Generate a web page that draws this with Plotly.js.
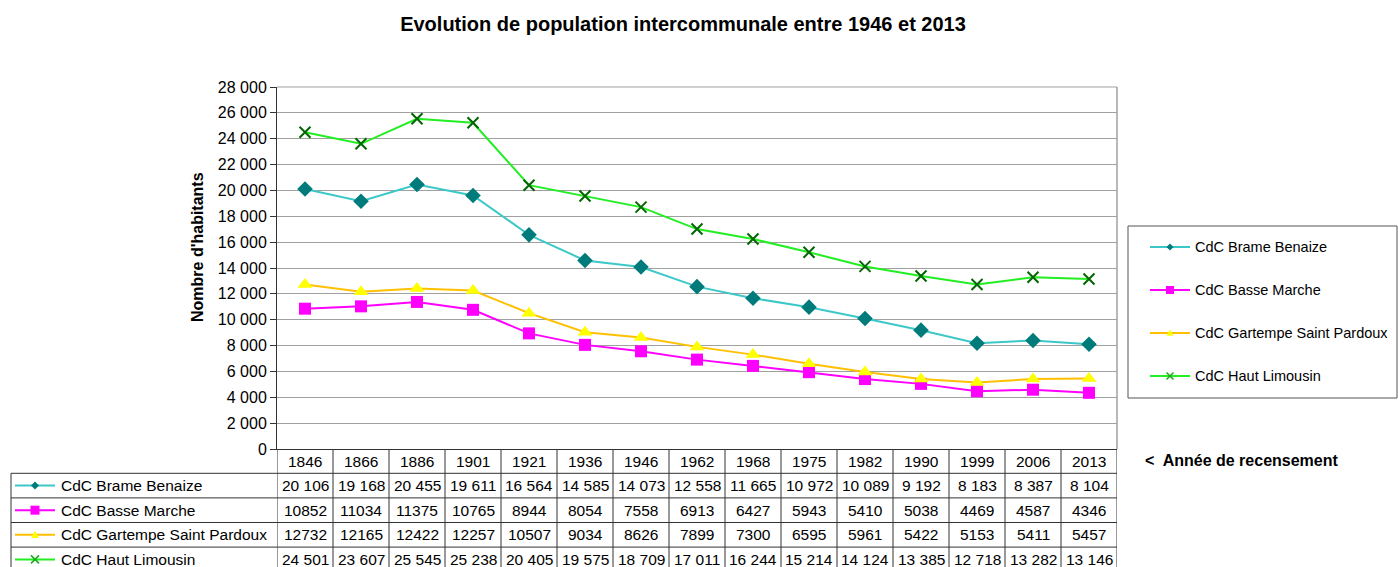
<!DOCTYPE html>
<html><head><meta charset="utf-8">
<script src="https://cdn.plot.ly/plotly-3.0.1.min.js"></script>
<style>html,body{margin:0;padding:0;background:#fff;overflow:hidden}#chart{width:1398px;height:567px}</style>
</head><body><div id="chart"></div>
<script>
// ---------- DATA ----------
const years = ['1846','1866','1886','1901','1921','1936','1946','1962','1968','1975','1982','1990','1999','2006','2013'];
const seriesNames = ['CdC Brame Benaize','CdC Basse Marche','CdC Gartempe Saint Pardoux','CdC Haut Limousin'];
const brameBenaize = [20106,19168,20455,19611,16564,14585,14073,12558,11665,10972,10089,9192,8183,8387,8104];
const basseMarche = [10852,11034,11375,10765,8944,8054,7558,6913,6427,5943,5410,5038,4469,4587,4346];
const gartempeSaintPardoux = [12732,12165,12422,12257,10507,9034,8626,7899,7300,6595,5961,5422,5153,5411,5457];
const hautLimousin = [24501,23607,25545,25238,20405,19575,18709,17011,16244,15214,14124,13385,12718,13282,13146];
const chartTitle = 'Evolution de population intercommunale entre 1946 et 2013';
const yTitle = "Nombre d'habitants";
const tableNote = '<\u00a0 Année de recensement';
const yMax = 28000, yStep = 2000;

// ---------- STYLE ----------
const FONT = 'Liberation Sans, Arial, sans-serif';
const W = 1398, H = 567;
const M = {l:277, r:281, t:87, b:118};
const PW = W - M.l - M.r, PH = H - M.t - M.b;
const px2x = px => (px - M.l) / PW;
const px2y = py => (H - M.b - py) / PH;

const seriesValues = [brameBenaize, basseMarche, gartempeSaintPardoux, hautLimousin];
const styles = [
  {line:'#3CC8C8', mk:'#007B7B', glyphMk:'#007B7B', symbol:'diamond', size:12, spaced:true},
  {line:'#FF00FF', mk:'#FF00FF', glyphMk:'#FF00FF', symbol:'square', size:12, spaced:false},
  {line:'#FFC000', mk:'#FFFF00', glyphMk:'#FFFF00', symbol:'triangle-up', size:13, spaced:false},
  {line:'#22EE22', mk:'#006600', glyphMk:'#1AAA1A', symbol:'x-thin', size:11, spaced:true}
];
const fmtSpaced = v => String(v).replace(/\B(?=(\d{3})+(?!\d))/g, '\u00a0');

const traces = seriesValues.map((vals, i) => ({
  type:'scatter', mode:'lines+markers', name:seriesNames[i],
  x:years, y:vals,
  line:{color:styles[i].line, width:2},
  marker: styles[i].symbol === 'x-thin'
    ? {symbol:'x-thin', size:styles[i].size, color:styles[i].mk, line:{width:2, color:styles[i].mk}}
    : {symbol:styles[i].symbol, size:styles[i].size, color:styles[i].mk, line:{width:0}},
  showlegend:false, hoverinfo:'skip'
}));

const shapes = [];
const annotations = [];
const LINE = '#333';

// plot area borders (top / right)
shapes.push({type:'line', xref:'paper', yref:'paper', x0:0, x1:1, y0:1, y1:1, line:{color:'#a0a0a0', width:1}});
shapes.push({type:'line', xref:'paper', yref:'paper', x0:1, x1:1, y0:0, y1:1, line:{color:'#a0a0a0', width:1.5}});

// glyph (line + marker) builder
function markerPath(sym, s) {
  if (sym === 'diamond') return `M0,${s} L${s},0 L0,${-s} L${-s},0 Z`;
  if (sym === 'square') return `M${-s},${-s} L${s},${-s} L${s},${s} L${-s},${s} Z`;
  if (sym === 'triangle-up') return `M0,${s} L${s},${-s*0.8} L${-s},${-s*0.8} Z`;
  return `M${-s},${-s} L${s},${s} M${-s},${s} L${s},${-s}`;
}
function glyph(i, x0px, x1px, cy, s) {
  const st = styles[i];
  shapes.push({type:'line', xref:'paper', yref:'paper', x0:px2x(x0px), x1:px2x(x1px), y0:px2y(cy), y1:px2y(cy),
    line:{color:st.line, width:2}});
  const isX = st.symbol === 'x-thin';
  shapes.push({type:'path', xref:'paper', yref:'paper', xsizemode:'pixel', ysizemode:'pixel',
    xanchor:px2x((x0px + x1px) / 2), yanchor:px2y(cy), path:markerPath(st.symbol, s),
    fillcolor: isX ? 'rgba(0,0,0,0)' : st.glyphMk, line:{color:st.glyphMk, width: isX ? 1.5 : 0}});
}

// ---------- legend (right) ----------
const LG = {x0:1128, x1:1397, y0:226, y1:398, items:[247,290,333,376]};
shapes.push({type:'rect', xref:'paper', yref:'paper', x0:px2x(LG.x0), x1:px2x(LG.x1), y0:px2y(LG.y1), y1:px2y(LG.y0),
  line:{color:'#555', width:1}, fillcolor:'rgba(0,0,0,0)'});
seriesNames.forEach((n, i) => {
  glyph(i, 1150, 1190, LG.items[i], i === 1 ? 4 : 3.5);
  annotations.push({xref:'paper', yref:'paper', x:px2x(1193), y:px2y(LG.items[i]), xanchor:'left', yanchor:'middle',
    text:n, showarrow:false, font:{family:FONT, size:14.5, color:'#000'}});
});

// ---------- data table ----------
const rowTops = [449, 473.3, 497.9, 522.5, 547.1, 571.7];
const rowC = k => (rowTops[k] + rowTops[k+1]) / 2;
const TL = 11, TR = M.l + PW;
for (let c = 0; c <= years.length; c++) {
  shapes.push({type:'line', xref:'x', yref:'paper', x0:c - 0.5, x1:c - 0.5, y0:px2y(rowTops[0]), y1:px2y(rowTops[5]),
    line:{color:LINE, width:1}});
}
shapes.push({type:'line', xref:'paper', yref:'paper', x0:px2x(TL), x1:px2x(TL), y0:px2y(rowTops[1]), y1:px2y(rowTops[5]),
  line:{color:LINE, width:1}});
for (let r = 1; r <= 4; r++) {
  shapes.push({type:'line', xref:'paper', yref:'paper', x0:px2x(TL), x1:px2x(TR), y0:px2y(rowTops[r]), y1:px2y(rowTops[r]),
    line:{color:LINE, width:1}});
}
const cellFont = {family:FONT, size:15.5, color:'#000'};
years.forEach((yr, c) => {
  annotations.push({xref:'x', yref:'paper', x:c, y:px2y(rowC(0)), xanchor:'center', yanchor:'middle',
    text:yr, showarrow:false, font:cellFont});
});
seriesValues.forEach((vals, i) => {
  const cy = rowC(i + 1);
  glyph(i, 15, 55, cy, i === 1 ? 4.5 : 4);
  annotations.push({xref:'paper', yref:'paper', x:px2x(59), y:px2y(cy), xanchor:'left', yanchor:'middle',
    text:seriesNames[i], showarrow:false, font:cellFont});
  vals.forEach((v, c) => {
    annotations.push({xref:'x', yref:'paper', x:c, y:px2y(cy), xanchor:'center', yanchor:'middle',
      text: styles[i].spaced ? fmtSpaced(v) : String(v), showarrow:false, font:cellFont});
  });
});
annotations.push({xref:'paper', yref:'paper', x:px2x(1143), y:px2y(461), xanchor:'left', yanchor:'middle',
  text:'<b>' + tableNote + '</b>', showarrow:false, font:{family:FONT, size:16, color:'#000'}});

// y-axis title
annotations.push({xref:'paper', yref:'paper', x:px2x(197), y:px2y(247), xanchor:'center', yanchor:'middle',
  textangle:-90, text:'<b>' + yTitle + '</b>', showarrow:false, font:{family:FONT, size:16, color:'#000'}});

const layout = {
  width:W, height:H, margin:M,
  paper_bgcolor:'#fff', plot_bgcolor:'#fff',
  separators:', ',
  font:{family:FONT, color:'#000'},
  title:{text:'<b>' + chartTitle + '</b>', xref:'container', yref:'container', x:683/W, y:(H-24)/H,
    xanchor:'center', yanchor:'middle', font:{family:FONT, size:20, color:'#000'}},
  xaxis:{type:'category', categoryorder:'array', categoryarray:years, range:[-0.5, years.length - 0.5],
    showticklabels:false, ticks:'', showgrid:false, zeroline:false, showline:true, linecolor:LINE, linewidth:1, fixedrange:true},
  yaxis:{range:[0, yMax], dtick:yStep, tick0:0, tickformat:',d', ticks:'outside', ticklen:6, tickcolor:LINE,
    showline:true, linecolor:LINE, linewidth:1, showgrid:true, gridcolor:'#a0a0a0', gridwidth:1, zeroline:false,
    tickfont:{family:FONT, size:16, color:'#000'}, fixedrange:true},
  shapes:shapes, annotations:annotations, showlegend:false
};

Plotly.newPlot('chart', traces, layout, {staticPlot:true, displayModeBar:false});
</script>
</body></html>
